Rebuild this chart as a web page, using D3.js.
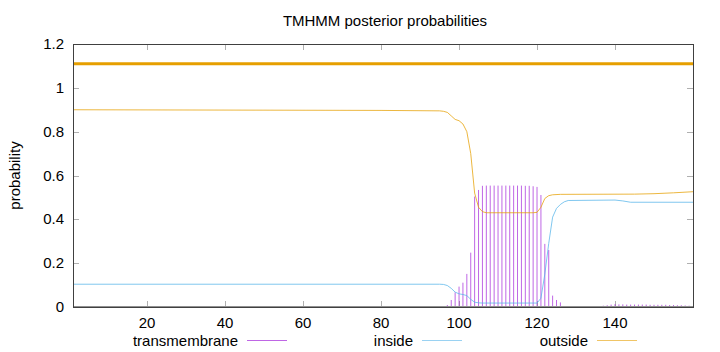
<!DOCTYPE html>
<html>
<head>
<meta charset="utf-8">
<script src="https://cdn.jsdelivr.net/npm/d3@7"></script>
<style>
  body { margin: 0; background: #fff; }
  svg { display: block; font-family: "Liberation Sans", Arial, sans-serif; }
</style>
</head>
<body>
<svg id="chart" width="720" height="352"></svg>
<script>
const title = "TMHMM posterior probabilities";
const yTicks = [0, 0.2, 0.4, 0.6, 0.8, 1, 1.2];
const xTicks = [20, 40, 60, 80, 100, 120, 140];
const seqRange = [1, 160];

// transmembrane posterior (impulses), residue -> probability
const tmPos = [96, 97, 98, 99, 100, 101, 102, 103, 104, 105, 106, 107, 108, 109, 110,
  111, 112, 113, 114, 115, 116, 117, 118, 119, 120, 121, 122, 123, 124, 125, 126, 127, 128, 129,
  135, 136, 137, 138, 139, 140, 141, 142, 143, 144, 145, 146, 147, 148, 149, 150,
  151, 152, 153, 154, 155, 156, 157, 158, 159];
const tmVal = [0.003, 0.009, 0.032, 0.067, 0.093, 0.111, 0.151, 0.248, 0.504, 0.534, 0.553, 0.554, 0.554, 0.554, 0.554,
  0.554, 0.554, 0.554, 0.554, 0.554, 0.554, 0.553, 0.553, 0.551, 0.548, 0.511, 0.288, 0.26, 0.052, 0.032, 0.021, 0.004, 0.003, 0.002,
  0.002, 0.004, 0.006, 0.008, 0.011, 0.013, 0.012, 0.012, 0.011, 0.011, 0.011, 0.011, 0.011, 0.011, 0.01, 0.01,
  0.01, 0.01, 0.01, 0.009, 0.009, 0.008, 0.008, 0.007, 0.006];

// inside posterior (line)
const inPos = [1, 95, 96, 97, 98, 99, 100, 101, 102, 103, 104, 105, 106, 120, 121, 122, 123, 124, 125,
  126, 127, 128, 140, 142, 144, 160];
const inVal = [0.104, 0.104, 0.103, 0.098, 0.085, 0.068, 0.06, 0.057, 0.052, 0.035, 0.022, 0.019, 0.018, 0.018, 0.04, 0.15, 0.29, 0.41, 0.45,
  0.468, 0.48, 0.486, 0.488, 0.484, 0.478, 0.478];

// outside posterior (line)
const outPos = [1, 80, 95, 96, 97, 98, 99, 100, 101, 102, 103, 104, 105, 106, 107, 119, 120, 121, 122,
  123, 124, 126, 145, 150, 155, 160];
const outVal = [0.9, 0.897, 0.895, 0.893, 0.888, 0.872, 0.856, 0.85, 0.835, 0.8, 0.7, 0.52, 0.455, 0.435, 0.43, 0.43, 0.432, 0.455, 0.495,
  0.508, 0.512, 0.514, 0.515, 0.517, 0.521, 0.526];

// predicted topology (outside over whole sequence)
const topoPos = [1, 160];
const topoVal = [1.11, 1.11];

const legend = [
  { label: "transmembrane", color: "#9400d3", textEnd: 238 },
  { label: "inside", color: "#56b4e9", textEnd: 413 },
  { label: "outside", color: "#e69f00", textEnd: 588 },
];

const fontSize = 15;
const margin = { top: 44, right: 27, bottom: 45, left: 73 };
const svg = d3.select("#chart");
const width = 720 - margin.left - margin.right;
const height = 352 - margin.top - margin.bottom;
const g = svg.append("g").attr("transform", `translate(${margin.left},${margin.top})`);

const xScale = d3.scaleLinear().domain(seqRange).range([0, width]);
const yScale = d3.scaleLinear().domain([0, 1.2]).range([height, 0]);

// title
svg.append("text")
  .attr("x", 385).attr("y", 26)
  .attr("text-anchor", "middle")
  .attr("font-size", fontSize)
  .text(title);

// y label
svg.append("text")
  .attr("transform", `translate(20,${margin.top + height / 2}) rotate(-90)`)
  .attr("text-anchor", "middle")
  .attr("font-size", fontSize)
  .text("probability");

// ticks (gnuplot style: inward, mirrored)
const tickColor = "#b0b0b0";
g.append("g").selectAll("line").data(yTicks.slice(1, -1)).join("line")
  .attr("x1", 0).attr("x2", 6)
  .attr("y1", (d) => Math.round(yScale(d)) + 0.5).attr("y2", (d) => Math.round(yScale(d)) + 0.5)
  .attr("stroke", tickColor);
g.append("g").selectAll("line").data(yTicks.slice(1, -1)).join("line")
  .attr("x1", width).attr("x2", width - 6)
  .attr("y1", (d) => Math.round(yScale(d)) + 0.5).attr("y2", (d) => Math.round(yScale(d)) + 0.5)
  .attr("stroke", tickColor);
g.append("g").selectAll("line").data(xTicks).join("line")
  .attr("x1", (d) => Math.round(xScale(d)) + 0.5).attr("x2", (d) => Math.round(xScale(d)) + 0.5)
  .attr("y1", height).attr("y2", height - 6)
  .attr("stroke", tickColor);
g.append("g").selectAll("line").data(xTicks).join("line")
  .attr("x1", (d) => Math.round(xScale(d)) + 0.5).attr("x2", (d) => Math.round(xScale(d)) + 0.5)
  .attr("y1", 0).attr("y2", 6)
  .attr("stroke", tickColor);

// tick labels
g.append("g").selectAll("text").data(yTicks).join("text")
  .attr("x", -9).attr("y", (d) => yScale(d) + 5)
  .attr("text-anchor", "end")
  .attr("font-size", fontSize)
  .text((d) => d3.format("~g")(d));
g.append("g").selectAll("text").data(xTicks).join("text")
  .attr("x", (d) => xScale(d)).attr("y", height + 21)
  .attr("text-anchor", "middle")
  .attr("font-size", fontSize)
  .text((d) => d);

const toPts = (pos, val) => pos.map((p, i) => ({ x: p, y: val[i] }));
const line = d3.line().x((d) => xScale(d.x)).y((d) => yScale(d.y));

// topology bar
g.append("path")
  .datum(toPts(topoPos, topoVal))
  .attr("fill", "none").attr("stroke", "#e69f00").attr("stroke-width", 3)
  .attr("d", line);

// transmembrane impulses
g.append("g").selectAll("line").data(toPts(tmPos, tmVal)).join("line")
  .attr("x1", (d) => xScale(d.x)).attr("x2", (d) => xScale(d.x))
  .attr("y1", yScale(0)).attr("y2", (d) => yScale(d.y))
  .attr("stroke", "#9400d3").attr("stroke-opacity", 0.6).attr("stroke-width", 1);

// inside / outside curves
g.append("path")
  .datum(toPts(inPos, inVal))
  .attr("fill", "none").attr("stroke", "#56b4e9").attr("stroke-opacity", 0.75).attr("stroke-width", 1)
  .attr("d", line);
g.append("path")
  .datum(toPts(outPos, outVal))
  .attr("fill", "none").attr("stroke", "#e69f00").attr("stroke-opacity", 0.75).attr("stroke-width", 1)
  .attr("d", line);

// zero line + border
g.append("line")
  .attr("x1", 0).attr("x2", width).attr("y1", height).attr("y2", height)
  .attr("stroke", "#909090").attr("stroke-width", 2);
g.append("rect")
  .attr("x", 0.5).attr("y", 0.5).attr("width", width).attr("height", height)
  .attr("fill", "none").attr("stroke", "#404040").attr("stroke-width", 1);

// legend
const lg = svg.append("g");
legend.forEach((d) => {
  lg.append("text")
    .attr("x", d.textEnd).attr("y", 346)
    .attr("text-anchor", "end")
    .attr("font-size", fontSize)
    .text(d.label);
  lg.append("line")
    .attr("x1", d.textEnd + 9).attr("x2", d.textEnd + 49)
    .attr("y1", 340.5).attr("y2", 340.5)
    .attr("stroke", d.color).attr("stroke-opacity", 0.6);
});
</script>
</body>
</html>
